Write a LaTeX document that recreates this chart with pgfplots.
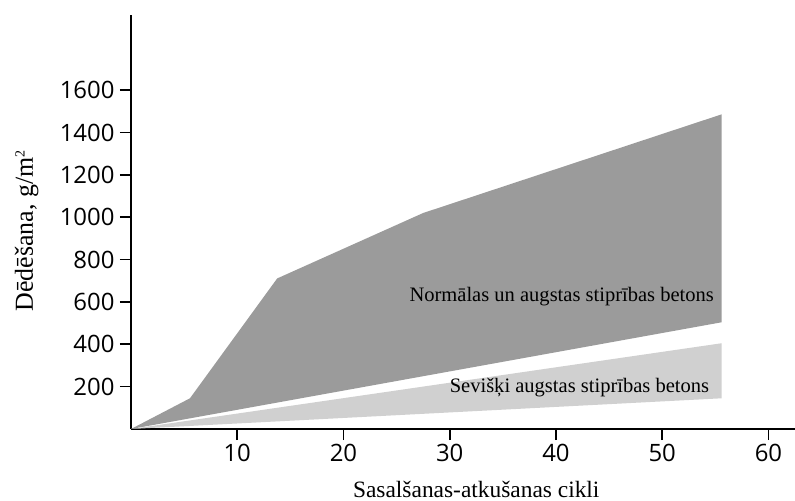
\documentclass[border=0pt]{standalone}
\usepackage{pgfplots}
\pgfplotsset{compat=1.18}
\usepackage{fontspec}
\setmainfont{Liberation Serif}
\newfontfamily\ticksfont{Open Sans}

\definecolor{darkband}{RGB}{155,155,155}
\definecolor{lightband}{RGB}{208,208,208}

\begin{document}
\begin{tikzpicture}
\useasboundingbox (-131bp,-72bp) rectangle (664bp,429bp);
\begin{axis}[
  scale only axis,
  width=664bp, height=414bp,
  xmin=0, xmax=62.5,
  ymin=0, ymax=1955,
  axis lines*=left,
  axis line style={line width=1.6bp, black},
  tick align=outside,
  major tick length=11bp,
  tick style={line width=1.6bp, black},
  xtick={10,20,30,40,50,60},
  ytick={200,400,600,800,1000,1200,1400,1600},
  /pgf/number format/assume math mode=true,
  /pgf/number format/1000 sep={},
  ticklabel style={font=\ticksfont\fontsize{24}{24}\selectfont},
  xticklabel style={yshift=-1bp},
  yticklabel style={xshift=-2bp},
  xlabel={Sasalšanas-atkušanas cikli},
  ylabel={Dēdēšana, g/m{\fontsize{14}{14}\selectfont\raisebox{0.6em}{2}}},
  xlabel style={font=\fontsize{23.5}{23.5}\selectfont, at={(axis description cs:0.52,-0.145)}, anchor=center},
  ylabel style={font=\fontsize{26}{26}\selectfont, at={(axis description cs:-0.157,0.478)}, anchor=center},
  clip=false,
]
% normal and high strength concrete
\addplot[fill=darkband, draw=none] coordinates {
  (0,0) (5.55,145) (13.76,711) (27.5,1020) (55.6,1486) (55.6,504)
} -- cycle;
% ultra high strength concrete
\addplot[fill=lightband, draw=none] coordinates {
  (0,0) (55.6,405) (55.6,145)
} -- cycle;

\node[anchor=east, font=\fontsize{20.6}{20.6}\selectfont] at (axis cs:55.2,623) {Normālas un augstas stiprības betons};
\node[anchor=east, font=\fontsize{20.6}{20.6}\selectfont] at (axis cs:54.75,194) {Sevišķi augstas stiprības betons};
\end{axis}
\end{tikzpicture}
\end{document}
